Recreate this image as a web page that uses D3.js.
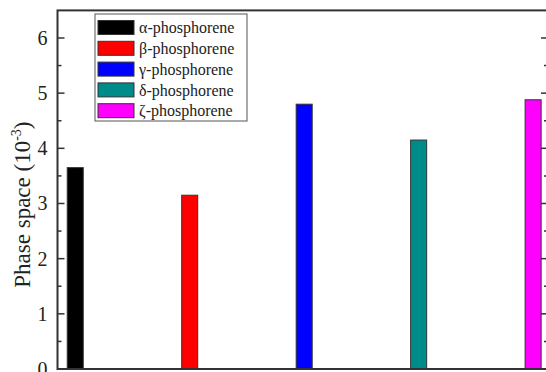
<!DOCTYPE html>
<html>
<head>
<meta charset="utf-8">
<script src="https://cdn.jsdelivr.net/npm/d3@7"></script>
<style>
  body { margin: 0; background: #fff; }
  text { font-family: "Liberation Serif", "Times New Roman", serif; }
</style>
</head>
<body>
<div id="chart"></div>
<script>
// Data
const categories = ["α-phosphorene", "β-phosphorene", "γ-phosphorene", "δ-phosphorene", "ζ-phosphorene"];
const positions = [1, 2, 3, 4, 5];
const phaseSpace = [3.65, 3.15, 4.80, 4.15, 4.88];
const colors = ["#000000", "#ff0000", "#0000ff", "#008b8b", "#ff00ff"];
const yTicks = [0, 1, 2, 3, 4, 5, 6];

const W = 546, H = 372;
const svg = d3.select("#chart").append("svg")
    .attr("width", W)
    .attr("height", H);

// Scales
const x = d3.scaleLinear().domain([0.845, 5.13]).range([57.5, 548]);
const y = d3.scaleLinear().domain([0, 6.5]).range([369, 10.4]);

// Bars
const barW = x(1.14) - x(1);
svg.selectAll(".bar")
    .data(phaseSpace)
    .join("rect")
    .attr("class", "bar")
    .attr("x", (d, i) => x(positions[i]) - barW / 2)
    .attr("y", d => y(d))
    .attr("width", barW)
    .attr("height", d => y(0) - y(d))
    .attr("fill", (d, i) => colors[i])
    .attr("stroke", "#333")
    .attr("stroke-width", 1);

// Frame
svg.append("rect")
    .attr("x", x.range()[0])
    .attr("y", y.range()[1])
    .attr("width", x.range()[1] - x.range()[0])
    .attr("height", y.range()[0] - y.range()[1])
    .attr("fill", "none")
    .attr("stroke", "#333")
    .attr("stroke-width", 2);

// Left axis (ticks inward)
const minor = d3.range(0.5, 6.5, 1);
const left = svg.append("g").attr("transform", `translate(${x.range()[0]},0)`);
left.selectAll(".major").data(yTicks).join("line")
    .attr("x1", 0).attr("x2", 7)
    .attr("y1", d => y(d)).attr("y2", d => y(d))
    .attr("stroke", "#333").attr("stroke-width", 1.5);
left.selectAll(".minor").data(minor).join("line")
    .attr("x1", 0).attr("x2", 4)
    .attr("y1", d => y(d)).attr("y2", d => y(d))
    .attr("stroke", "#333").attr("stroke-width", 1.5);
left.selectAll(".lbl").data(yTicks).join("text")
    .attr("x", -10)
    .attr("y", d => y(d))
    .attr("dy", "0.35em")
    .attr("text-anchor", "end")
    .attr("font-size", 20)
    .attr("fill", "#222")
    .text(d => d);

// Right axis ticks (inward)
const right = svg.append("g").attr("transform", `translate(${x.range()[1]},0)`);
right.selectAll(".major").data(yTicks).join("line")
    .attr("x1", 0).attr("x2", -7)
    .attr("y1", d => y(d)).attr("y2", d => y(d))
    .attr("stroke", "#333").attr("stroke-width", 1.5);
right.selectAll(".minor").data(minor).join("line")
    .attr("x1", 0).attr("x2", -4)
    .attr("y1", d => y(d)).attr("y2", d => y(d))
    .attr("stroke", "#333").attr("stroke-width", 1.5);

// Y label
const ylab = svg.append("text")
    .attr("transform", `translate(30,${y(2.98)}) rotate(-90)`)
    .attr("text-anchor", "middle")
    .attr("font-size", 23)
    .attr("fill", "#222");
ylab.append("tspan").text("Phase space (10");
ylab.append("tspan").attr("dy", -9).attr("font-size", 14).text("-3");
ylab.append("tspan").attr("dy", 9).text(")");

// Legend
const legend = svg.append("g").attr("transform", "translate(95,14)");
legend.append("rect")
    .attr("width", 152).attr("height", 107)
    .attr("fill", "#fff")
    .attr("stroke", "#555").attr("stroke-width", 1);
const items = legend.selectAll(".item").data(categories).join("g")
    .attr("transform", (d, i) => `translate(3,${6.5 + i * 20.8})`);
items.append("rect")
    .attr("width", 36).attr("height", 14)
    .attr("fill", (d, i) => colors[i])
    .attr("stroke", "#333").attr("stroke-width", 1);
items.append("text")
    .attr("x", 41).attr("y", 7)
    .attr("dy", "0.35em")
    .attr("font-size", 16)
    .attr("fill", "#222")
    .text(d => d);
</script>
</body>
</html>
